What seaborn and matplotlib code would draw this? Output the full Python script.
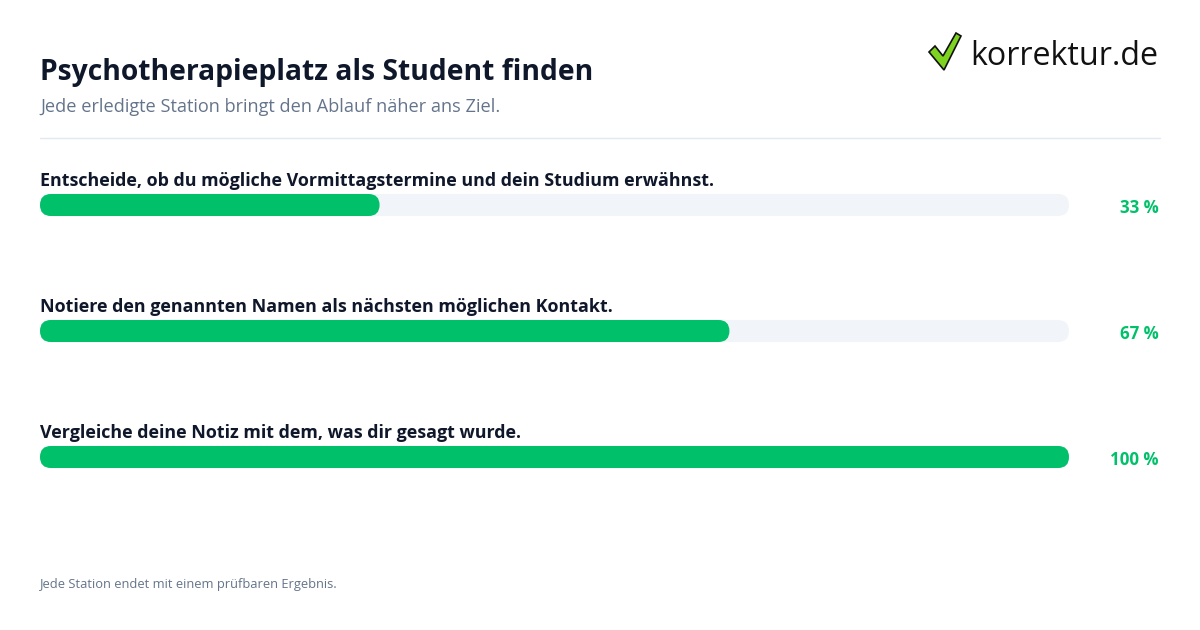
import matplotlib
matplotlib.use("Agg")
import matplotlib.pyplot as plt
import seaborn as sns
import pandas as pd
from matplotlib.patches import FancyBboxPatch, Polygon
from matplotlib.transforms import blended_transform_factory

# chart data
steps = [
    "Entscheide, ob du mögliche Vormittagstermine und dein Studium erwähnst.",
    "Notiere den genannten Namen als nächsten möglichen Kontakt.",
    "Vergleiche deine Notiz mit dem, was dir gesagt wurde.",
]
progress = [33, 67, 100]
track_max = [100, 100, 100]

title = "Psychotherapieplatz als Student finden"
subtitle = "Jede erledigte Station bringt den Ablauf näher ans Ziel."
footer = "Jede Station endet mit einem prüfbaren Ergebnis."

GREEN = "#00c16a"
TRACK = "#f1f5f9"
DARK = "#0f172a"
MUTED = "#64748b"

sns.set_theme(style="white")
plt.rcParams["font.family"] = ["Open Sans", "DejaVu Sans"]

df = pd.DataFrame({"step": steps, "progress": progress, "track": track_max})

fig = plt.figure(figsize=(12, 6.3), dpi=100)
W, H = 1200, 630
ax = fig.add_axes([40 / W, 1 - 520 / H, 1029 / W, 378 / H])

sns.barplot(data=df, y="step", x="track", color=TRACK, width=0.175,
            saturation=1, ax=ax, orient="h")
sns.barplot(data=df, y="step", x="progress", color=GREEN, width=0.175,
            saturation=1, ax=ax, orient="h")
ax.set_xlim(0, 100)
ax.set_ylim(2.5, -0.5)

# swap plain rectangles for rounded ones
px_x = 1029 / 100
px_y = 378 / 3
radius = 11 / px_x
aspect = (11 / px_y) / radius
for p in list(ax.patches):
    x, y, w, h = p.get_x(), p.get_y(), p.get_width(), p.get_height()
    fc = p.get_facecolor()
    p.remove()
    ax.add_patch(FancyBboxPatch((x, y), w, h,
                                boxstyle=f"round,pad=0,rounding_size={radius}",
                                mutation_aspect=aspect, facecolor=fc,
                                edgecolor="none", linewidth=0))

right_tr = blended_transform_factory(fig.transFigure, ax.transData)
for i, (s, v) in enumerate(zip(steps, progress)):
    ax.text(0, i - 0.15, s, fontsize=12.9, fontweight="bold", color=DARK,
            ha="left", va="baseline")
    ax.text(1159 / W, i + 0.025, f"{v} %", transform=right_tr,
            fontsize=12.2, fontweight="bold", color=GREEN, ha="right", va="center")

ax.set_axis_off()

fig.text(40 / W, 1 - 80 / H, title, fontsize=20.3, fontweight="bold", color=DARK,
         ha="left", va="baseline")
fig.text(40 / W, 1 - 112 / H, subtitle, fontsize=13.1, color=MUTED,
         ha="left", va="baseline")
fig.add_artist(plt.Line2D([40 / W, 1160 / W], [1 - 138 / H, 1 - 138 / H],
                          color="#e2e8f0", linewidth=1))
fig.text(40 / W, 1 - 588 / H, footer, fontsize=9.3, color=MUTED,
         ha="left", va="baseline")

# logo
check = [(929, 52), (935, 46), (943, 56), (956, 33), (961, 36), (944, 70)]
fig.add_artist(Polygon([(x / W, 1 - y / H) for x, y in check], closed=True,
                       facecolor="#7ed321", edgecolor="#111111", linewidth=1.2,
                       transform=fig.transFigure))
fig.text(970 / W, 1 - 65 / H, "korrektur.de", fontsize=23.2, color="#111111",
         ha="left", va="baseline")

fig.savefig("out.png", dpi=100, facecolor="white")
